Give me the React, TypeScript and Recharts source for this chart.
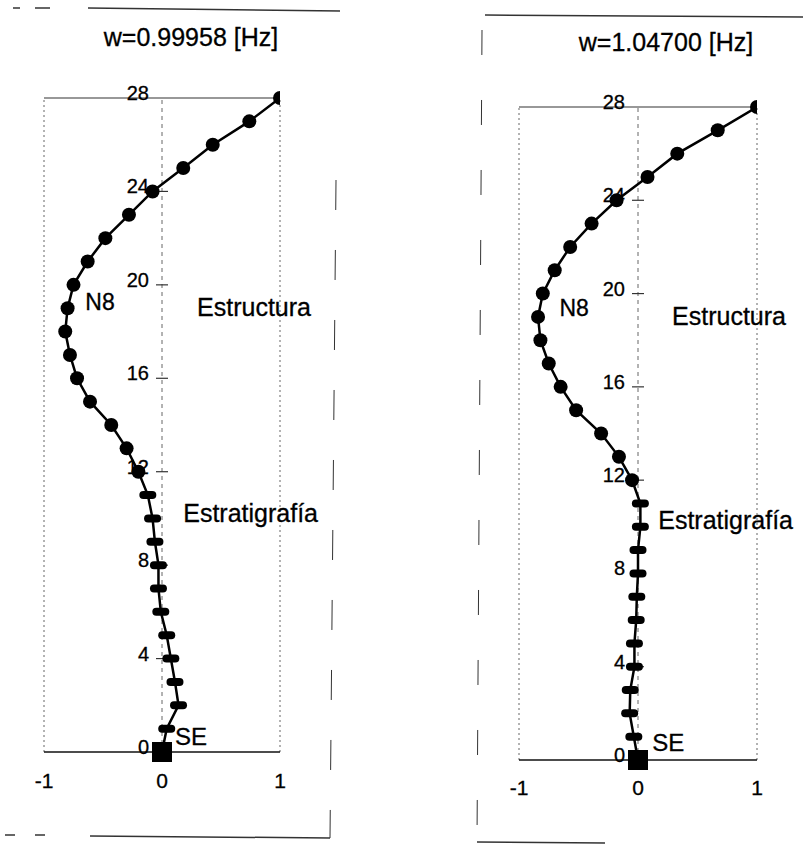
import React from "react"
import { LineChart, Line, XAxis, YAxis, ReferenceLine, ReferenceDot } from "recharts"

// node heights (level number) and normalised mode shapes
const heights = [0, 1, 2, 3, 4, 5, 6, 7, 8, 9, 10, 11, 12, 13, 14, 15, 16, 17, 18, 19, 20, 21, 22, 23, 24, 25, 26, 27, 28]
const modeA = [0, 0.04, 0.14, 0.11, 0.075, 0.04, -0.01, -0.03, -0.03, -0.06, -0.08, -0.12, -0.2, -0.3, -0.43, -0.61, -0.72, -0.78, -0.82, -0.8, -0.75, -0.63, -0.48, -0.28, -0.08, 0.18, 0.43, 0.74, 1.0]
const modeB = [0, -0.035, -0.07, -0.065, -0.03, -0.03, -0.015, -0.01, 0, 0, 0.02, 0.02, -0.05, -0.16, -0.31, -0.52, -0.65, -0.75, -0.82, -0.84, -0.8, -0.7, -0.57, -0.39, -0.18, 0.08, 0.33, 0.67, 1.0]
const yTicks = [0, 4, 8, 12, 16, 20, 24, 28]
const xTicks = [-1, 0, 1]
const titleA = "w=0.99958 [Hz]"
const titleB = "w=1.04700 [Hz]"
const structureFrom = 12

const notesA = [
  { x: 0.78, y: 19.05, text: "Estructura", anchor: "middle", size: 25 },
  { x: 0.18, y: 10.23, text: "Estratigrafía", anchor: "start", size: 25 },
  { x: -0.65, y: 19.26, text: "N8", anchor: "start", size: 23 },
  { x: 0.11, y: 0.68, text: "SE", anchor: "start", size: 24 },
]
const notesB = [
  { x: 0.765, y: 19.04, text: "Estructura", anchor: "middle", size: 25 },
  { x: 0.17, y: 10.29, text: "Estratigrafía", anchor: "start", size: 25 },
  { x: -0.66, y: 19.38, text: "N8", anchor: "start", size: 23 },
  { x: 0.12, y: 0.73, text: "SE", anchor: "start", size: 24 },
]

const FONT = "'Liberation Sans', Arial, Helvetica, sans-serif"

const NodeDot = (props: any) => {
  const { cx, cy, payload, index } = props
  if (cx == null || cy == null) return null
  if (payload.h === 0) return <rect key={index} x={cx - 10} y={cy - 10} width={20} height={20} fill="#000" />
  if (payload.h < structureFrom)
    return <rect key={index} x={cx - 8.5} y={cy - 4} width={17} height={8} rx={4} fill="#000" />
  return <circle key={index} cx={cx} cy={cy} r={7} fill="#000" />
}

const tickShape = (value: number) => (props: any) => {
  const { cx, cy } = props
  return (
    <g>
      {value > 0 && value < 28 && <line x1={cx - 6} x2={cx + 6} y1={cy} y2={cy} stroke="#333" strokeWidth={1.2} />}
      <text x={cx - 13} y={cy - 5} textAnchor="end" dominantBaseline="central" fontSize={20} fontFamily={FONT} fill="#000" stroke="#000" strokeWidth={0.3}>
        {value}
      </text>
    </g>
  )
}

const noteShape = (n: any) => (props: any) => (
  <text x={props.cx} y={props.cy} textAnchor={n.anchor} dominantBaseline="central" fontSize={n.size} fontFamily={FONT} fill="#000" stroke="#000" strokeWidth={0.3}>
    {n.text}
  </text>
)

function ModePanel({ mode, notes, width, margin, tickMargin }: any) {
  const data = heights.map((h, i) => ({ h, u: mode[i] }))
  return (
    <LineChart width={width} height={845} data={data} margin={margin}>
      <XAxis
        type="number"
        dataKey="u"
        domain={[-1, 1]}
        ticks={xTicks}
        height={40}
        tickLine={false}
        tickSize={0}
        tickMargin={tickMargin}
        axisLine={{ stroke: "#111", strokeWidth: 1.6 }}
        tick={{ fill: "#000", fontSize: 21, fontFamily: FONT, stroke: "#000", strokeWidth: 0.3 }}
        allowDataOverflow
      />
      <YAxis type="number" domain={[0, 28]} hide />
      <ReferenceLine x={-1} stroke="#666" strokeDasharray="2 3" />
      <ReferenceLine x={1} stroke="#666" strokeDasharray="2 3" />
      <ReferenceLine x={0} stroke="#666" strokeDasharray="4 4" />
      <ReferenceLine y={28} stroke="#333" strokeWidth={1.2} />
      {yTicks.map((v) => (
        <ReferenceDot key={"t" + v} x={0} y={v} r={0} shape={tickShape(v)} />
      ))}
      <Line
        type="linear"
        dataKey="h"
        stroke="#000"
        strokeWidth={2.5}
        dot={NodeDot}
        activeDot={false}
        isAnimationActive={false}
      />
      {notes.map((n: any) => (
        <ReferenceDot key={n.text} x={n.x} y={n.y} r={0} shape={noteShape(n)} />
      ))}
    </LineChart>
  )
}

export default function App() {
  return (
    <div style={{ position: "fixed", left: 0, top: 0, width: 803, height: 845, background: "#fff", fontFamily: FONT }}>
      {/* scanned page frames */}
      <svg width={803} height={845} style={{ position: "absolute", left: 0, top: 0 }}>
        <g stroke="#333" fill="none">
          <line x1={88} y1={8} x2={340} y2={11} strokeWidth={1.5} />
          <line x1={13} y1={8} x2={20} y2={8} strokeWidth={1.5} />
          <line x1={35} y1={8} x2={50} y2={8} strokeWidth={1.5} />
          <line x1={336} y1={180} x2={330} y2={838} strokeWidth={1} strokeDasharray="30 40" />
          <line x1={90} y1={836} x2={330} y2={838} strokeWidth={1.5} />
          <line x1={5} y1={835} x2={15} y2={835} strokeWidth={1.5} />
          <line x1={35} y1={835} x2={45} y2={835} strokeWidth={1.5} />
          <line x1={485} y1={15} x2={803} y2={17} strokeWidth={1.5} />
          <line x1={482} y1={30} x2={477} y2={842} strokeWidth={1} strokeDasharray="25 45" />
          <line x1={477} y1={842} x2={605} y2={843} strokeWidth={1.5} />
        </g>
      </svg>
      <div style={{ position: "absolute", left: 0, top: 0 }}>
        <ModePanel mode={modeA} notes={notesA} width={400} margin={{ top: 98, right: 120, bottom: 53, left: 44 }} tickMargin={21} />
      </div>
      <div style={{ position: "absolute", left: 400, top: 0 }}>
        <ModePanel mode={modeB} notes={notesB} width={403} margin={{ top: 107, right: 46, bottom: 45, left: 119 }} tickMargin={20} />
      </div>
      <div style={{ position: "absolute", left: 91, top: 22, width: 200, textAlign: "center", fontSize: 25, lineHeight: "30px", color: "#000", WebkitTextStroke: "0.3px #000" }}>
        {titleA}
      </div>
      <div style={{ position: "absolute", left: 566, top: 27, width: 200, textAlign: "center", fontSize: 25, lineHeight: "30px", color: "#000", WebkitTextStroke: "0.3px #000" }}>
        {titleB}
      </div>
    </div>
  )
}
